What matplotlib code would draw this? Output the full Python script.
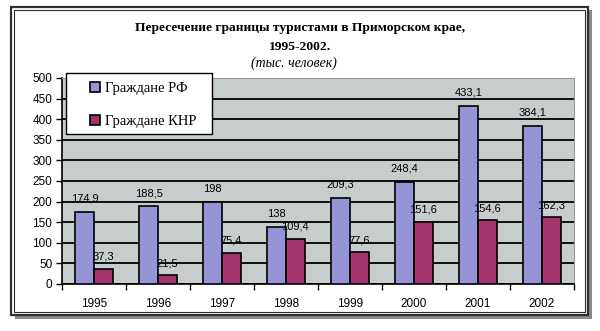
import matplotlib.pyplot as plt
import numpy as np
from matplotlib.patches import Rectangle

years = ['1995', '1996', '1997', '1998', '1999', '2000', '2001', '2002']
rf = [174.9, 188.5, 198, 138, 209.3, 248.4, 433.1, 384.1]
knr = [37.3, 21.5, 75.4, 109.4, 77.6, 151.6, 154.6, 162.3]

col_rf = '#9494d6'
col_knr = '#a3356b'


def fmt(v):
    s = ('%g' % v).replace('.', ',')
    return s


fig = plt.figure(figsize=(6.0, 3.31), dpi=100)

# outer frame with a shadow, positions in pixels from the top left
W, H = 600.0, 331.0
def frect(x0, y0, x1, y1, z=-5, **kw):
    r = Rectangle((x0 / W, 1 - y1 / H), (x1 - x0) / W, (y1 - y0) / H,
                  transform=fig.transFigure, zorder=z, **kw)
    fig.patches.append(r)

frect(15, 10, 592, 319, facecolor='#8a8a8a', edgecolor='none')
frect(11, 7, 588, 315, facecolor='white', edgecolor='#303030', linewidth=1.6)
frect(14, 10, 585, 312, facecolor='none', edgecolor='#303030', linewidth=0.8)

ax = fig.add_axes([62 / W, 1 - 284 / H, 512 / W, 206 / H])
ax.set_facecolor('#c7cccc')

x = np.arange(len(years))
w = 0.29
b1 = ax.bar(x - w / 2, rf, w, color=col_rf, edgecolor='black', linewidth=1.2,
            label='Граждане РФ', zorder=3)
b2 = ax.bar(x + w / 2, knr, w, color=col_knr, edgecolor='black', linewidth=1.2,
            label='Граждане КНР', zorder=3)

for xi, v in zip(x, rf):
    ax.annotate(fmt(v), (xi - w / 2, v), xytext=(0, 6), textcoords='offset points',
                ha='center', va='bottom', fontsize=8, family='Liberation Sans', zorder=4)
for xi, v in zip(x, knr):
    ax.annotate(fmt(v), (xi + w / 2, v), xytext=(0, 5), textcoords='offset points',
                ha='center', va='bottom', fontsize=8, family='Liberation Sans', zorder=4)

ax.set_xlim(-0.5, len(years) - 0.5)
ax.set_ylim(0, 500)
ax.set_yticks(range(0, 501, 50))
ax.set_xticks(x)
ax.set_xticklabels(years)
ax.set_xticks(np.arange(-0.5, len(years)), minor=True)
ax.tick_params(axis='x', which='major', length=0, pad=10, labelsize=8.5)
ax.tick_params(axis='x', which='minor', length=4, width=1, direction='out')
ax.tick_params(axis='y', length=4, width=1, direction='out', labelsize=8.5, pad=3)
for lab in ax.get_xticklabels() + ax.get_yticklabels():
    lab.set_family('Liberation Sans')

ax.grid(axis='y', color='black', linewidth=1.3, zorder=1)
ax.set_axisbelow(True)
ax.spines['left'].set_linewidth(1.2)
ax.spines['bottom'].set_linewidth(1.2)
ax.spines['top'].set_color('#9a9a9a')
ax.spines['right'].set_color('#9a9a9a')

# legend box
frect(66, 73, 212, 134, z=8, facecolor='white', edgecolor='black', linewidth=1.0)
leg = fig.legend(handles=[b1, b2], loc='upper left',
                 bbox_to_anchor=(90 / W, 1 - 82 / H), frameon=False,
                 borderpad=0, labelspacing=1.35,
                 handlelength=0.7, handleheight=0.7, handletextpad=0.3,
                 borderaxespad=0,
                 prop={'family': 'Liberation Serif', 'size': 10.5})
leg.set_zorder(10)

fig.text(0.5, 1 - 28 / H, 'Пересечение границы туристами в Приморском крае,',
         ha='center', va='center', fontsize=9.7, fontweight='bold', family='Liberation Serif')
fig.text(0.5, 1 - 47 / H, '1995-2002.',
         ha='center', va='center', fontsize=9.7, fontweight='bold', family='Liberation Serif')
fig.text(0.49, 1 - 63 / H, '(тыс. человек)',
         ha='center', va='center', fontsize=10, style='italic', family='Liberation Serif')

fig.savefig('out.png', dpi=100)
